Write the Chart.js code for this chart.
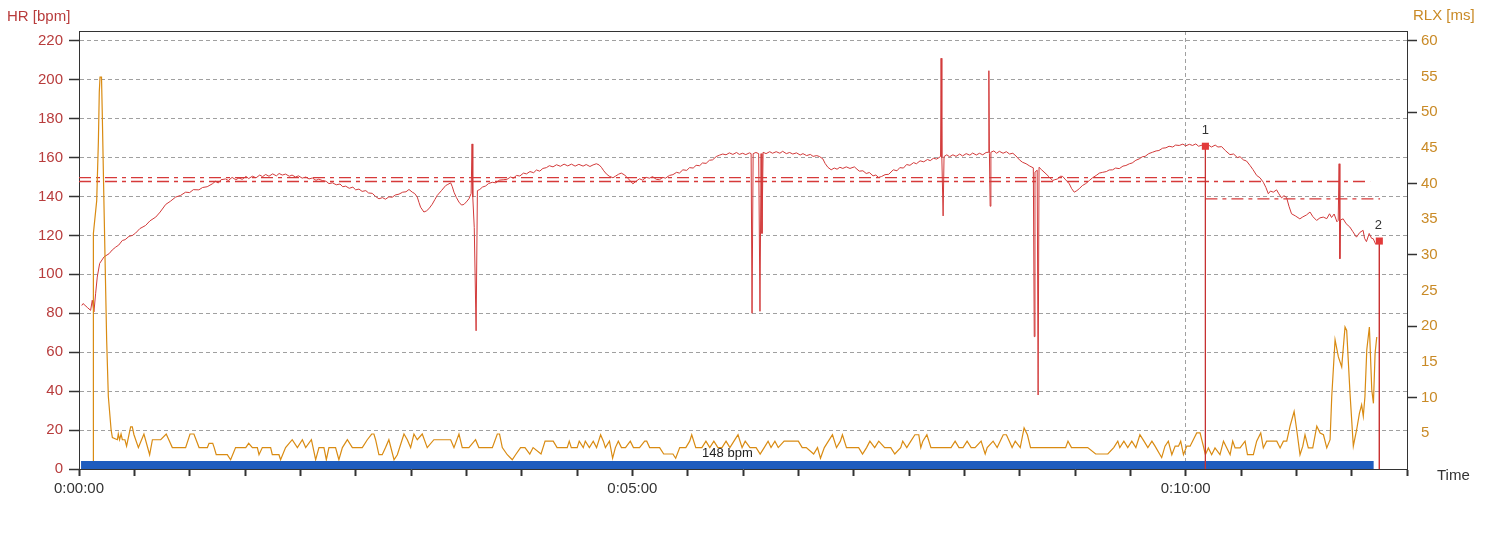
<!DOCTYPE html>
<html>
<head>
<meta charset="utf-8">
<title>HR / RLX</title>
<script src="https://cdn.jsdelivr.net/npm/chart.js@4.4.1/dist/chart.umd.min.js"></script>
<style>
  html, body { margin: 0; padding: 0; background: #fff; }
  #wrap { width: 1498px; height: 540px; }
</style>
</head>
<body>
<div id="wrap"><canvas id="chart" width="1498" height="540"></canvas></div>
<script>
// --- Data (time in seconds) ---
const hrPoints = [
  [1.5, 84], [2.2, 85], [4.5, 83], [6.3, 81.5], [7.2, 86.7], [8.1, 80.7], [9, 90], [9.9, 98.6], [11.2, 105.6],
  [13.6, 109], [16.3, 110.6], [18, 112.5], [19.9, 114], [21.5, 115], [23.5, 117.4], [25, 117.8], [27.1, 119.5],
  [29, 120], [30.7, 121.2], [33, 123.5], [36.1, 125.1], [38.5, 127.5], [41.6, 129.4], [44, 132], [47, 135.9],
  [49.5, 137.5], [52.4, 139.7], [55, 140.5], [57.8, 142.2], [60, 142], [62, 143.5], [65, 143.4], [67, 144.6],
  [69.5, 145], [72.3, 146.5], [74, 147.8], [75.5, 146.9], [77, 148.6], [79.5, 149], [81, 148.2], [83, 149.8],
  [85, 148.6], [86.7, 149.5], [88.5, 148.8], [90.5, 150.3], [92, 149.2], [94, 150.4], [96, 149.6], [98, 151],
  [99.5, 150.2], [101.2, 151.3], [103, 150.4], [105, 151.6], [107, 150.6], [108.5, 151.8], [110.2, 151],
  [112, 151.5], [114, 150.4], [115.5, 151], [117.4, 150], [119, 150.6], [121, 149.4], [123, 150], [124.7, 149],
  [126.5, 149.5], [128.5, 148.3], [130, 148.9], [131.9, 148.2], [134, 147.8], [135.5, 146.6], [137.4, 147],
  [139.5, 146], [141.5, 146.4], [143, 145], [144.6, 145.3], [146.5, 144.2], [148.5, 144.8], [150, 143.4],
  [151.8, 143.8], [153.5, 142.6], [155.5, 143], [157, 141.8], [159, 141.6], [160.8, 140], [162.6, 138.8],
  [164.5, 139.4], [166.2, 138.6], [168, 139.8], [169.8, 139.6], [171.6, 140.8], [173.5, 141.2], [175.5, 142.2],
  [177.3, 142.4], [178.9, 143.6], [180.7, 142.2], [182, 141.5], [183.4, 139.7], [184.3, 137], [185.2, 134.5],
  [187, 132], [188.4, 132.6], [189.7, 133.7], [191.5, 136], [193, 138.5], [194.2, 140.5], [196.5, 143],
  [198.8, 145.6], [200, 146.2], [201.5, 147], [202.4, 145], [203.3, 142.2], [204.6, 139.5], [206, 137.1],
  [207.4, 135.6], [208.7, 135.9], [210, 137.2], [211.4, 138.8], [212.6, 141.5], [213.1, 167], [213.5, 139.7],
  [214.3, 124], [215.3, 71], [216, 143], [217.3, 143.6], [218.7, 144.8], [220.5, 145.4], [222, 146.6],
  [224.1, 147.3], [226, 147], [228, 148.4], [230, 148.6], [232, 148.8], [234, 150], [235.5, 149.4],
  [237.2, 150.8], [239, 150.5], [241, 152], [242.6, 151.6], [244.5, 152.8], [246.5, 152.2], [248, 153.6],
  [249.8, 153], [251.5, 154.4], [253.4, 154.8], [255, 155.8], [257, 155.2], [258.9, 156.3], [261, 155.5],
  [263, 156.6], [265, 155.7], [267, 156.6], [269, 155.6], [271, 156.5], [273.3, 155.6], [275, 156.4],
  [277, 155.4], [278.7, 156.2], [280.5, 156.8], [282, 156.2], [283.2, 155], [284.5, 153.2], [285.9, 151.6],
  [287.5, 150.4], [289.5, 149.6], [291, 150.5], [292.5, 151.4], [294, 152], [295.5, 151.2], [296.7, 150.3],
  [298.5, 148.4], [300.3, 146.5], [302, 147.8], [303.9, 149.1], [305.5, 148.4], [307.5, 149.8], [309.3, 149.4],
  [311, 150.2], [313, 148.8], [314.7, 148.6], [316.5, 149.8], [318, 149.4], [320.1, 150.8], [322, 151.2],
  [324, 152.4], [325.5, 152], [327.4, 153.7], [329.5, 153.4], [331, 154.8], [333, 154.6], [334.6, 156],
  [336.5, 155.8], [338, 157.2], [340, 157], [341.8, 158.6], [343.5, 158.8], [345.5, 160.5], [347.2, 161.2],
  [349, 161.8], [350.8, 161.4], [352.6, 162.4], [354.5, 161.6], [356.5, 162.6], [358, 161.6], [359.8, 162.2],
  [361.5, 161.5], [363.5, 162.4], [364.4, 162], [364.9, 80], [365.5, 162], [367, 162.6], [368.5, 162],
  [369.2, 81], [369.8, 162], [370.3, 121], [370.9, 162.7], [372.5, 162], [374.5, 163], [376, 162.2],
  [378, 163], [380, 162.2], [381.5, 163.2], [383.5, 162], [385.3, 162.6], [387, 161.8], [389, 162.4],
  [391, 161.3], [392.5, 162], [394.5, 161], [396.5, 161.6], [398, 160.6], [400, 161], [401.5, 160.5],
  [403.3, 159.3], [404.5, 157], [406, 155], [407.8, 153.7], [409.5, 154.6], [411, 154], [412.5, 155],
  [414.1, 154.4], [416, 155.2], [418, 154.4], [420.4, 155.2], [421.8, 154], [423.1, 153], [425, 153.2],
  [426.8, 151.8], [428.5, 152.3], [430.5, 150.6], [432, 151], [433.5, 149.8], [435, 150.2], [437, 151.2],
  [439, 151.4], [441.5, 153.7], [443.5, 153.2], [445, 154.8], [447, 154.6], [448.7, 156.4], [450.5, 156],
  [452.5, 157.4], [454, 156.8], [456, 158.3], [458, 157.8], [460, 159], [461.5, 158.4], [463.2, 159.6],
  [465, 159.2], [467.1, 160.5], [467.4, 211], [467.8, 160], [468.5, 130], [469, 160.5], [470.5, 161.4],
  [472, 160.4], [473.8, 161.4], [475.5, 160.6], [477.5, 161.8], [479, 160.8], [481, 162], [483, 161.2],
  [484.5, 162.3], [486.5, 161.3], [488.2, 162.2], [490, 161.4], [491.8, 162.6], [493.1, 162.7], [493.3, 204.6],
  [493.6, 162], [494, 135], [494.4, 162.7], [496, 163.4], [497.5, 162.2], [499, 163.2], [501, 162.2],
  [502.8, 163], [504.5, 161.8], [506.3, 162.2], [508, 160.8], [509.9, 158.8], [511.5, 157.6], [513.5, 156.8],
  [515.5, 155.6], [517.4, 154.7], [517.9, 68], [518.3, 152.5], [519.5, 153.5], [520, 38], [520.5, 155],
  [522, 153.6], [524.3, 151.6], [526, 150], [527.9, 148.2], [529, 148.6], [530.6, 149], [532, 150.4],
  [533.3, 150.3], [535, 148.5], [536.9, 146.5], [538.2, 144], [539.6, 142.2], [541, 143], [542.3, 144],
  [544, 145.6], [545.8, 146.6], [547.8, 148.2], [549.5, 149.6], [551.5, 150.8], [553.2, 152], [555, 152.4],
  [557, 152.8], [558.5, 153.6], [560.4, 153.7], [562, 154.6], [564, 154.3], [566, 155.6], [567.6, 155.9],
  [569.5, 156.8], [571, 157.2], [573, 158.6], [574.8, 159.3], [576.5, 160.4], [578, 160.6], [580, 162],
  [582, 162.7], [584, 163.4], [585.5, 163.6], [587.5, 164.8], [589.3, 165], [591, 165.8], [593, 165.4],
  [594.5, 166.4], [596.5, 166.2], [598.5, 166.9], [600, 166], [602, 166.8], [603.7, 166.2], [605.5, 167],
  [607, 165.8], [609, 166.4], [610.7, 165.8], [612, 166.6], [614, 165.4], [616, 166.4], [617.5, 165.4],
  [619.5, 165.6], [621.5, 163.6], [624, 161.5], [626, 161.8], [628, 160], [629.5, 160.4], [631.3, 158.8],
  [633, 158.2], [634.9, 155.9], [636.5, 153.8], [638.5, 150.8], [640.3, 149.6], [642.1, 147.3], [643.5, 144.6],
  [644.8, 141.4], [646, 142.8], [647.5, 142.2], [649.3, 143.4], [650.5, 141.4], [652, 139.3], [653.3, 140.4],
  [654.7, 139.5], [656, 135], [657.4, 131.1], [659.5, 130], [661.9, 128.5], [663.5, 129.5], [665.5, 130.5],
  [667.4, 132], [669, 129.6], [671, 127.7], [672.8, 129], [674.6, 129.4], [676.5, 128.6], [678, 131.1],
  [679.1, 129.2], [680.5, 131], [682, 127], [682.7, 127.7], [683.2, 156.8], [683.6, 108], [684, 128],
  [685.4, 128.5], [687, 126], [689, 124.3], [690.6, 122], [692.6, 119.1], [694.4, 121.5], [696.2, 122.6],
  [697, 118.5], [698, 116.8], [699.5, 121], [700.8, 118.5], [701.7, 118.3], [703, 115.5], [705, 117.1]
];

const rlxPoints = [
  [7.7, 0], [7.8, 33], [9.6, 37.6], [10.5, 45.8], [11, 52.8], [11.4, 54.9], [12.2, 54.9], [12.6, 50],
  [13.5, 37.6], [15, 18], [15.9, 10.2], [17.4, 5.5], [18.1, 4.4], [20.8, 4.1], [21.3, 4.9], [22, 4.1],
  [22.8, 4.9], [23.5, 4.1], [24.9, 4.1], [25.8, 3.2], [27.1, 4.8], [28, 5.9], [28.9, 5.9], [29.8, 4.8],
  [32.2, 3], [35.2, 4.9], [38.3, 2], [39.8, 4.1], [44.3, 4.1], [47.3, 4.9], [50.6, 3], [57.8, 3],
  [60.2, 4.9], [62.3, 4.9], [65.1, 3], [69.6, 3], [70.5, 3.6], [72.5, 3.6], [73.3, 3], [74.4, 2],
  [80.4, 2], [82.2, 1.3], [84.9, 3], [90.4, 3], [92, 3.6], [94, 3], [96.7, 3], [97.6, 2], [99.4, 3],
  [103.9, 3], [104.8, 2], [108.4, 2], [109.3, 1.3], [112, 3], [115.6, 4.1], [118.4, 3], [121.1, 4.1],
  [122.9, 3], [126, 4.1], [128.3, 1.3], [130.1, 3], [132.8, 3], [134.1, 1.3], [135.5, 3], [139.1, 3],
  [140.9, 1.3], [142.8, 3], [145.5, 4.1], [148.2, 3], [153.6, 3], [156.3, 4.1], [158.7, 4.9], [159.9, 4.9],
  [160.8, 4.1], [162.6, 2], [164.4, 2], [166.2, 3], [168, 4.1], [170.8, 1.3], [172.6, 2], [176.2, 4.9],
  [178, 4.1], [179.8, 3], [181.6, 4.9], [183.4, 4.1], [186.1, 4.9], [188.8, 3], [192.4, 4.1], [201.5, 4.1],
  [203.3, 3], [206, 4.9], [207.8, 3], [211.4, 3], [215, 4.1], [216.8, 3], [224.1, 3], [226.8, 4.9],
  [228, 4.9], [229.5, 3], [232.2, 2], [234.9, 1.3], [236.7, 2], [239.4, 3], [241.8, 3], [244.4, 2.1],
  [246.2, 3], [250.5, 2.1], [252.7, 3.9], [257.1, 3.9], [259.2, 3], [264.7, 3], [265.8, 3.9], [266.9, 3],
  [270.1, 3], [271.2, 3.9], [273.4, 3], [274.5, 3.9], [276.7, 3], [278.8, 3.9], [280.6, 3], [282.8, 4.8],
  [284.3, 3.9], [285.4, 3], [287.6, 3.9], [289.3, 1.5], [290.8, 3], [292.4, 3.9], [294.1, 3], [296.3, 3],
  [298.9, 3.9], [300.6, 3], [303.9, 3], [306.7, 3.9], [307.8, 3.9], [309.4, 3], [314.8, 3], [317, 2.1],
  [322, 2.1], [323.5, 1.5], [325.7, 3], [329, 3], [331.1, 3.9], [332.2, 4.8], [334.4, 3], [337.7, 3],
  [339.9, 3.9], [342, 3], [344.2, 3.9], [346.4, 3], [348.6, 3], [350.8, 3.9], [352.9, 3], [355.1, 3.9],
  [357.3, 4.8], [359.5, 3], [361.2, 3.9], [363.8, 3], [367.1, 3], [369.3, 2.1], [371.5, 3], [373.6, 3.9],
  [375.2, 3], [377.3, 3.9], [379.1, 3], [382.3, 3.9], [390, 3.9], [392.1, 3], [394.3, 3], [398.3, 2.1],
  [400.4, 3], [402, 1.5], [404.1, 3], [406.3, 3.9], [408.5, 4.8], [410.7, 3], [412.8, 3.9], [413.9, 4.8],
  [416.1, 3], [422.7, 3], [424.8, 2.1], [427, 3], [428.8, 3.9], [431.4, 3], [433.6, 3.9], [436.8, 3],
  [440.1, 3], [442.3, 2.1], [445.5, 3], [446.6, 3.9], [448.8, 3], [451, 3.9], [453.2, 4.8], [455.3, 4.8],
  [456.4, 3], [457.5, 3.9], [459.7, 4.8], [461.9, 3], [472.8, 3], [475, 3.9], [477.1, 3], [479.3, 3],
  [481.5, 3.9], [483.7, 3], [485.8, 3], [489.1, 3.9], [491.3, 2.1], [492.4, 3], [495.6, 3.9], [497.8, 3],
  [501.1, 4.8], [502.8, 4.8], [504.4, 3.9], [505.9, 3], [507.6, 3.9], [510.3, 3], [512.4, 5.75], [514.2, 4.8],
  [515.9, 3], [534.9, 3], [536.2, 3.9], [538.1, 3], [546.9, 3], [551.2, 2.1], [557.8, 2.1], [561, 3],
  [563.2, 3.9], [564.3, 3], [566.5, 3.9], [568.6, 3], [570.8, 3.9], [573, 3], [575.2, 4.8], [577.4, 3.9],
  [579.5, 3], [581.7, 3.9], [583.4, 3.2], [586.1, 2], [587, 1.6], [588.8, 3.2], [590.6, 3.9], [592.5, 2],
  [594.3, 3.2], [596.1, 3.2], [597.3, 3.9], [598.8, 2], [600.6, 3.2], [602.4, 3.2], [606, 5.05], [607.8, 5.05],
  [609.6, 3.2], [610.7, 2], [612.3, 2.95], [614.1, 2], [615.9, 2.95], [618.6, 2], [620.5, 3.9], [622.3, 2.95],
  [624.1, 2], [625.5, 3.9], [626.8, 2.95], [629.5, 2.95], [632.2, 3.9], [633.5, 2], [636.7, 2], [638.5, 3.9],
  [640.7, 5.05], [642.1, 2.95], [643.9, 3.9], [649.4, 3.9], [651.2, 2.95], [653, 3.9], [654.8, 3.9],
  [656.6, 6], [658.8, 8.06], [660.2, 5.5], [662, 2], [663.5, 3.2], [664.7, 4.8], [666.5, 2.95], [668.9, 2.95],
  [671.1, 6], [672.9, 5.05], [674.7, 4.8], [676.5, 2.95], [678.3, 4.1], [679.2, 10.15], [681, 18.1],
  [682.8, 15.7], [684.6, 14.3], [686.4, 19.9], [687.3, 19.4], [689.1, 10.6], [690.9, 3.2], [692.7, 5.5],
  [694.2, 7.8], [695.4, 9], [696.3, 7.4], [697.2, 10.15], [698.2, 16.7], [699.6, 19.9], [700.9, 11.1],
  [701.8, 9.2], [702.7, 16.2], [703.6, 18.5]
];

// average lines: [from s, to s, bpm]
const avgLines = [
  [0, 610.7, 149.7],
  [0, 700, 147.7],
  [610.7, 705.4, 138.8]
];

const markerTimes = [610.7, 705];
const markerHr = [165.8, 117.1];
const markerLabels = ['1', '2'];

const lapStart = 1.1;
const lapEnd = 702;
const lapLabel = '148 bpm';

const timeStep = 30;       // tick marks every 30 s
const timeLabelStep = 300; // labels every 5 min

// --- Styles ---
const FONT = "'Liberation Sans', Arial, sans-serif";
const HR_RED = '#d23a3a';
const HR_TEXT = '#b83c3c';
const RLX_ORANGE = '#d98b12';
const RLX_TEXT = '#c98a26';
const GRID = '#a0a0a0';
const AXIS = '#333333';
const LAP_BAR_BPM = 4.1;

function fmtTime(sec) {
  const h = Math.floor(sec / 3600);
  const m = Math.floor((sec % 3600) / 60);
  const s = Math.round(sec % 60);
  return h + ':' + String(m).padStart(2, '0') + ':' + String(s).padStart(2, '0');
}

const toXY = arr => arr.map(p => ({ x: p[0], y: p[1] }));

const datasets = [];

datasets.push({
  label: 'HR', data: toXY(hrPoints), yAxisID: 'y', order: 6,
  borderColor: HR_RED, borderWidth: 1, pointRadius: 0, tension: 0
});

avgLines.forEach(a => {
  datasets.push({
    data: [{ x: a[0], y: a[2] }, { x: a[1], y: a[2] }], yAxisID: 'y', order: 5,
    borderColor: '#d63a3a', borderWidth: 1.3, borderDash: [12, 5, 4, 5], pointRadius: 0
  });
});

datasets.push({
  label: 'RLX', data: toXY(rlxPoints), yAxisID: 'y2', order: 4,
  borderColor: RLX_ORANGE, borderWidth: 1.2, pointRadius: 0, tension: 0
});

datasets.push({
  data: [{ x: lapStart, y: LAP_BAR_BPM }, { x: lapEnd, y: LAP_BAR_BPM }], yAxisID: 'y', order: 3,
  borderWidth: 0, borderColor: 'rgba(0,0,0,0)', backgroundColor: '#1e5cbe', fill: 'origin', pointRadius: 0
});

markerTimes.forEach((t, i) => {
  datasets.push({
    data: [{ x: t, y: markerHr[i] }, { x: t, y: 0 }], yAxisID: 'y', order: 2,
    borderColor: '#c83232', borderWidth: 1, pointRadius: 0
  });
});

datasets.push({
  type: 'scatter',
  data: markerTimes.map((t, i) => ({ x: t, y: markerHr[i] })), yAxisID: 'y', order: 1,
  pointStyle: 'rect', pointRadius: 5, backgroundColor: '#e23b3b', borderColor: '#e23b3b', borderWidth: 0
});

// --- Extra texts and frame ---
const decorations = {
  id: 'decorations',
  afterDatasetsDraw(chart) {
    const { ctx, chartArea, scales } = chart;
    ctx.save();
    // top frame line
    ctx.strokeStyle = AXIS;
    ctx.lineWidth = 1;
    ctx.beginPath();
    ctx.moveTo(chartArea.left, chartArea.top + 0.5);
    ctx.lineTo(chartArea.right, chartArea.top + 0.5);
    ctx.stroke();

    // lap label over the bar
    ctx.fillStyle = '#222';
    ctx.font = '13px ' + FONT;
    ctx.textAlign = 'center';
    ctx.textBaseline = 'alphabetic';
    const cx = scales.x.getPixelForValue((lapStart + lapEnd) / 2);
    ctx.fillText(lapLabel, cx, scales.y.getPixelForValue(LAP_BAR_BPM) - 4);

    // marker numbers
    ctx.fillStyle = '#333';
    markerTimes.forEach((t, i) => {
      ctx.fillText(markerLabels[i], scales.x.getPixelForValue(t) - (i === 1 ? 1 : 0),
        scales.y.getPixelForValue(markerHr[i]) - 12);
    });
    ctx.restore();
  },
  afterDraw(chart) {
    const { ctx, chartArea } = chart;
    ctx.save();
    ctx.font = '15px ' + FONT;
    ctx.textBaseline = 'middle';
    ctx.textAlign = 'left';
    ctx.fillStyle = HR_TEXT;
    ctx.fillText('HR [bpm]', 7, 17);
    ctx.fillStyle = RLX_TEXT;
    ctx.fillText('RLX [ms]', chartArea.right + 6, 16);
    ctx.fillStyle = AXIS;
    ctx.fillText('Time', chartArea.right + 30, chartArea.bottom + 7);
    ctx.restore();
  }
};

new Chart(document.getElementById('chart').getContext('2d'), {
  type: 'line',
  data: { datasets },
  plugins: [decorations],
  options: {
    responsive: false,
    devicePixelRatio: 1,
    animation: false,
    events: [],
    layout: { padding: { top: 31, left: 0, right: 0, bottom: 0 } },
    plugins: { legend: { display: false }, tooltip: { enabled: false } },
    scales: {
      x: {
        type: 'linear', position: 'bottom', min: 0, max: 720,
        afterFit: s => { s.height = 71; },
        ticks: {
          stepSize: timeStep, autoSkip: false, maxRotation: 0, padding: 4,
          color: AXIS, font: { family: FONT, size: 15 },
          callback: v => (v % timeLabelStep === 0 && v < 720 ? fmtTime(v) : '')
        },
        grid: {
          color: c => (c.tick && c.tick.value === 600 ? GRID : 'rgba(0,0,0,0)'),
          tickColor: AXIS, tickLength: 7, tickWidth: 2, lineWidth: 1
        },
        border: { color: AXIS, width: 1, dash: [4, 3] }
      },
      y: {
        type: 'linear', position: 'left', min: 0, max: 225,
        afterFit: s => { s.width = 79; },
        ticks: {
          stepSize: 10, includeBounds: false, padding: 6,
          color: HR_TEXT, font: { family: FONT, size: 15 },
          callback: v => (v % 20 === 0 ? v : '')
        },
        grid: {
          color: c => (c.tick && c.tick.value % 20 === 0 && c.tick.value > 0 ? GRID : 'rgba(0,0,0,0)'),
          tickColor: AXIS, tickLength: 10, tickWidth: 1.5, lineWidth: 1
        },
        border: { color: AXIS, width: 1, dash: [4, 3] }
      },
      y2: {
        type: 'linear', position: 'right', min: 0, max: 61.36,
        afterFit: s => { s.width = 91; },
        ticks: {
          stepSize: 5, includeBounds: false, padding: 4,
          color: RLX_TEXT, font: { family: FONT, size: 15 },
          callback: v => (v === 0 ? '' : v)
        },
        grid: {
          drawOnChartArea: false,
          tickColor: c => (c.tick && c.tick.value % 10 === 0 && c.tick.value > 0 ? AXIS : 'rgba(0,0,0,0)'),
          tickLength: 10, tickWidth: 1.5
        },
        border: { color: AXIS, width: 1 }
      }
    }
  }
});
</script>
</body>
</html>
